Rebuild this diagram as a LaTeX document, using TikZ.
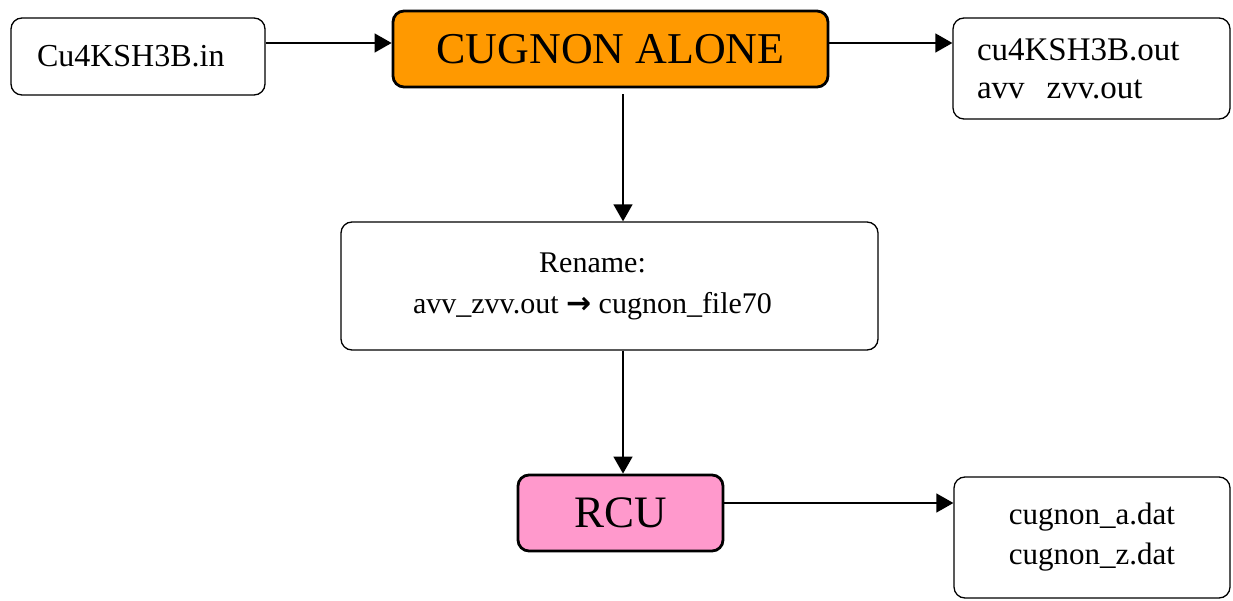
\documentclass[tikz,border=0pt]{standalone}
\usepackage{fontspec}
\setmainfont{Liberation Serif}
\newfontfamily\symfont{DejaVu Sans}
\usetikzlibrary{arrows.meta}
\definecolor{runorange}{HTML}{FF9900}
\definecolor{runpink}{HTML}{FF99CC}
\tikzset{
  filebox/.style={draw=black, line width=1.3pt, rounded corners=11pt, fill=white,
    inner sep=0pt, font=\fontsize{32}{38}\selectfont},
  progbox/.style={draw=black, line width=2.8pt, rounded corners=11pt,
    inner sep=0pt, font=\fontsize{44}{48}\selectfont},
  arr/.style={line width=1.4pt, -{Triangle[length=17pt,width=19pt]}},
}
\begin{document}
\begin{tikzpicture}[x=1pt,y=1pt]
\useasboundingbox (0,0) rectangle (1233,600);

% input, main program and its outputs
\node[filebox, minimum width=254pt, minimum height=77pt, text width=202pt, align=left]
  (in) at (138,543.5) {Cu4KSH3B.in};
\node[progbox, fill=runorange, minimum width=435pt, minimum height=76pt]
  (cug) at (610.5,551) {CUGNON ALONE};
\node[filebox, minimum width=277pt, minimum height=101pt, text width=229pt, align=left,
  font=\fontsize{33}{38}\selectfont]
  (out) at (1091.5,531.5) {cu4KSH3B.out\\avv\ \ zvv.out};

% renaming step (text set a little left of the box centre)
\node[filebox, minimum width=537pt, minimum height=128pt, align=center,
  font=\fontsize{30}{41}\selectfont]
  (ren) at (609.5,314) {\hspace*{-34pt}Rename:\\\hspace*{-34pt}avv\_zvv.out {\symfont\bfseries →} cugnon\_file70};

% second program and its outputs
\node[progbox, fill=runpink, font=\fontsize{45}{48}\selectfont,
  minimum width=205pt, minimum height=76pt]
  (rcu) at (620.5,87) {RCU};
\node[filebox, minimum width=276pt, minimum height=121pt, align=center,
  font=\fontsize{31}{40}\selectfont]
  (dat) at (1092,62.5) {cugnon\_a.dat\\cugnon\_z.dat};

% connectors
\draw[arr] ([yshift=13.5pt]in.east) -- ([yshift=13.5pt]in.east -| cug.west);
\draw[arr] ([yshift=6pt]cug.east) -- ([yshift=6pt]cug.east -| out.west);
\draw[arr, shorten <=6pt] ([xshift=12.5pt]cug.south) -- ([xshift=12.5pt]cug.south |- ren.north);
\draw[arr] ([xshift=13.5pt]ren.south) -- ([xshift=13.5pt]ren.south |- rcu.north);
\draw[arr] ([yshift=10pt]rcu.east) -- ([yshift=10pt]rcu.east -| dat.west);
\end{tikzpicture}
\end{document}
